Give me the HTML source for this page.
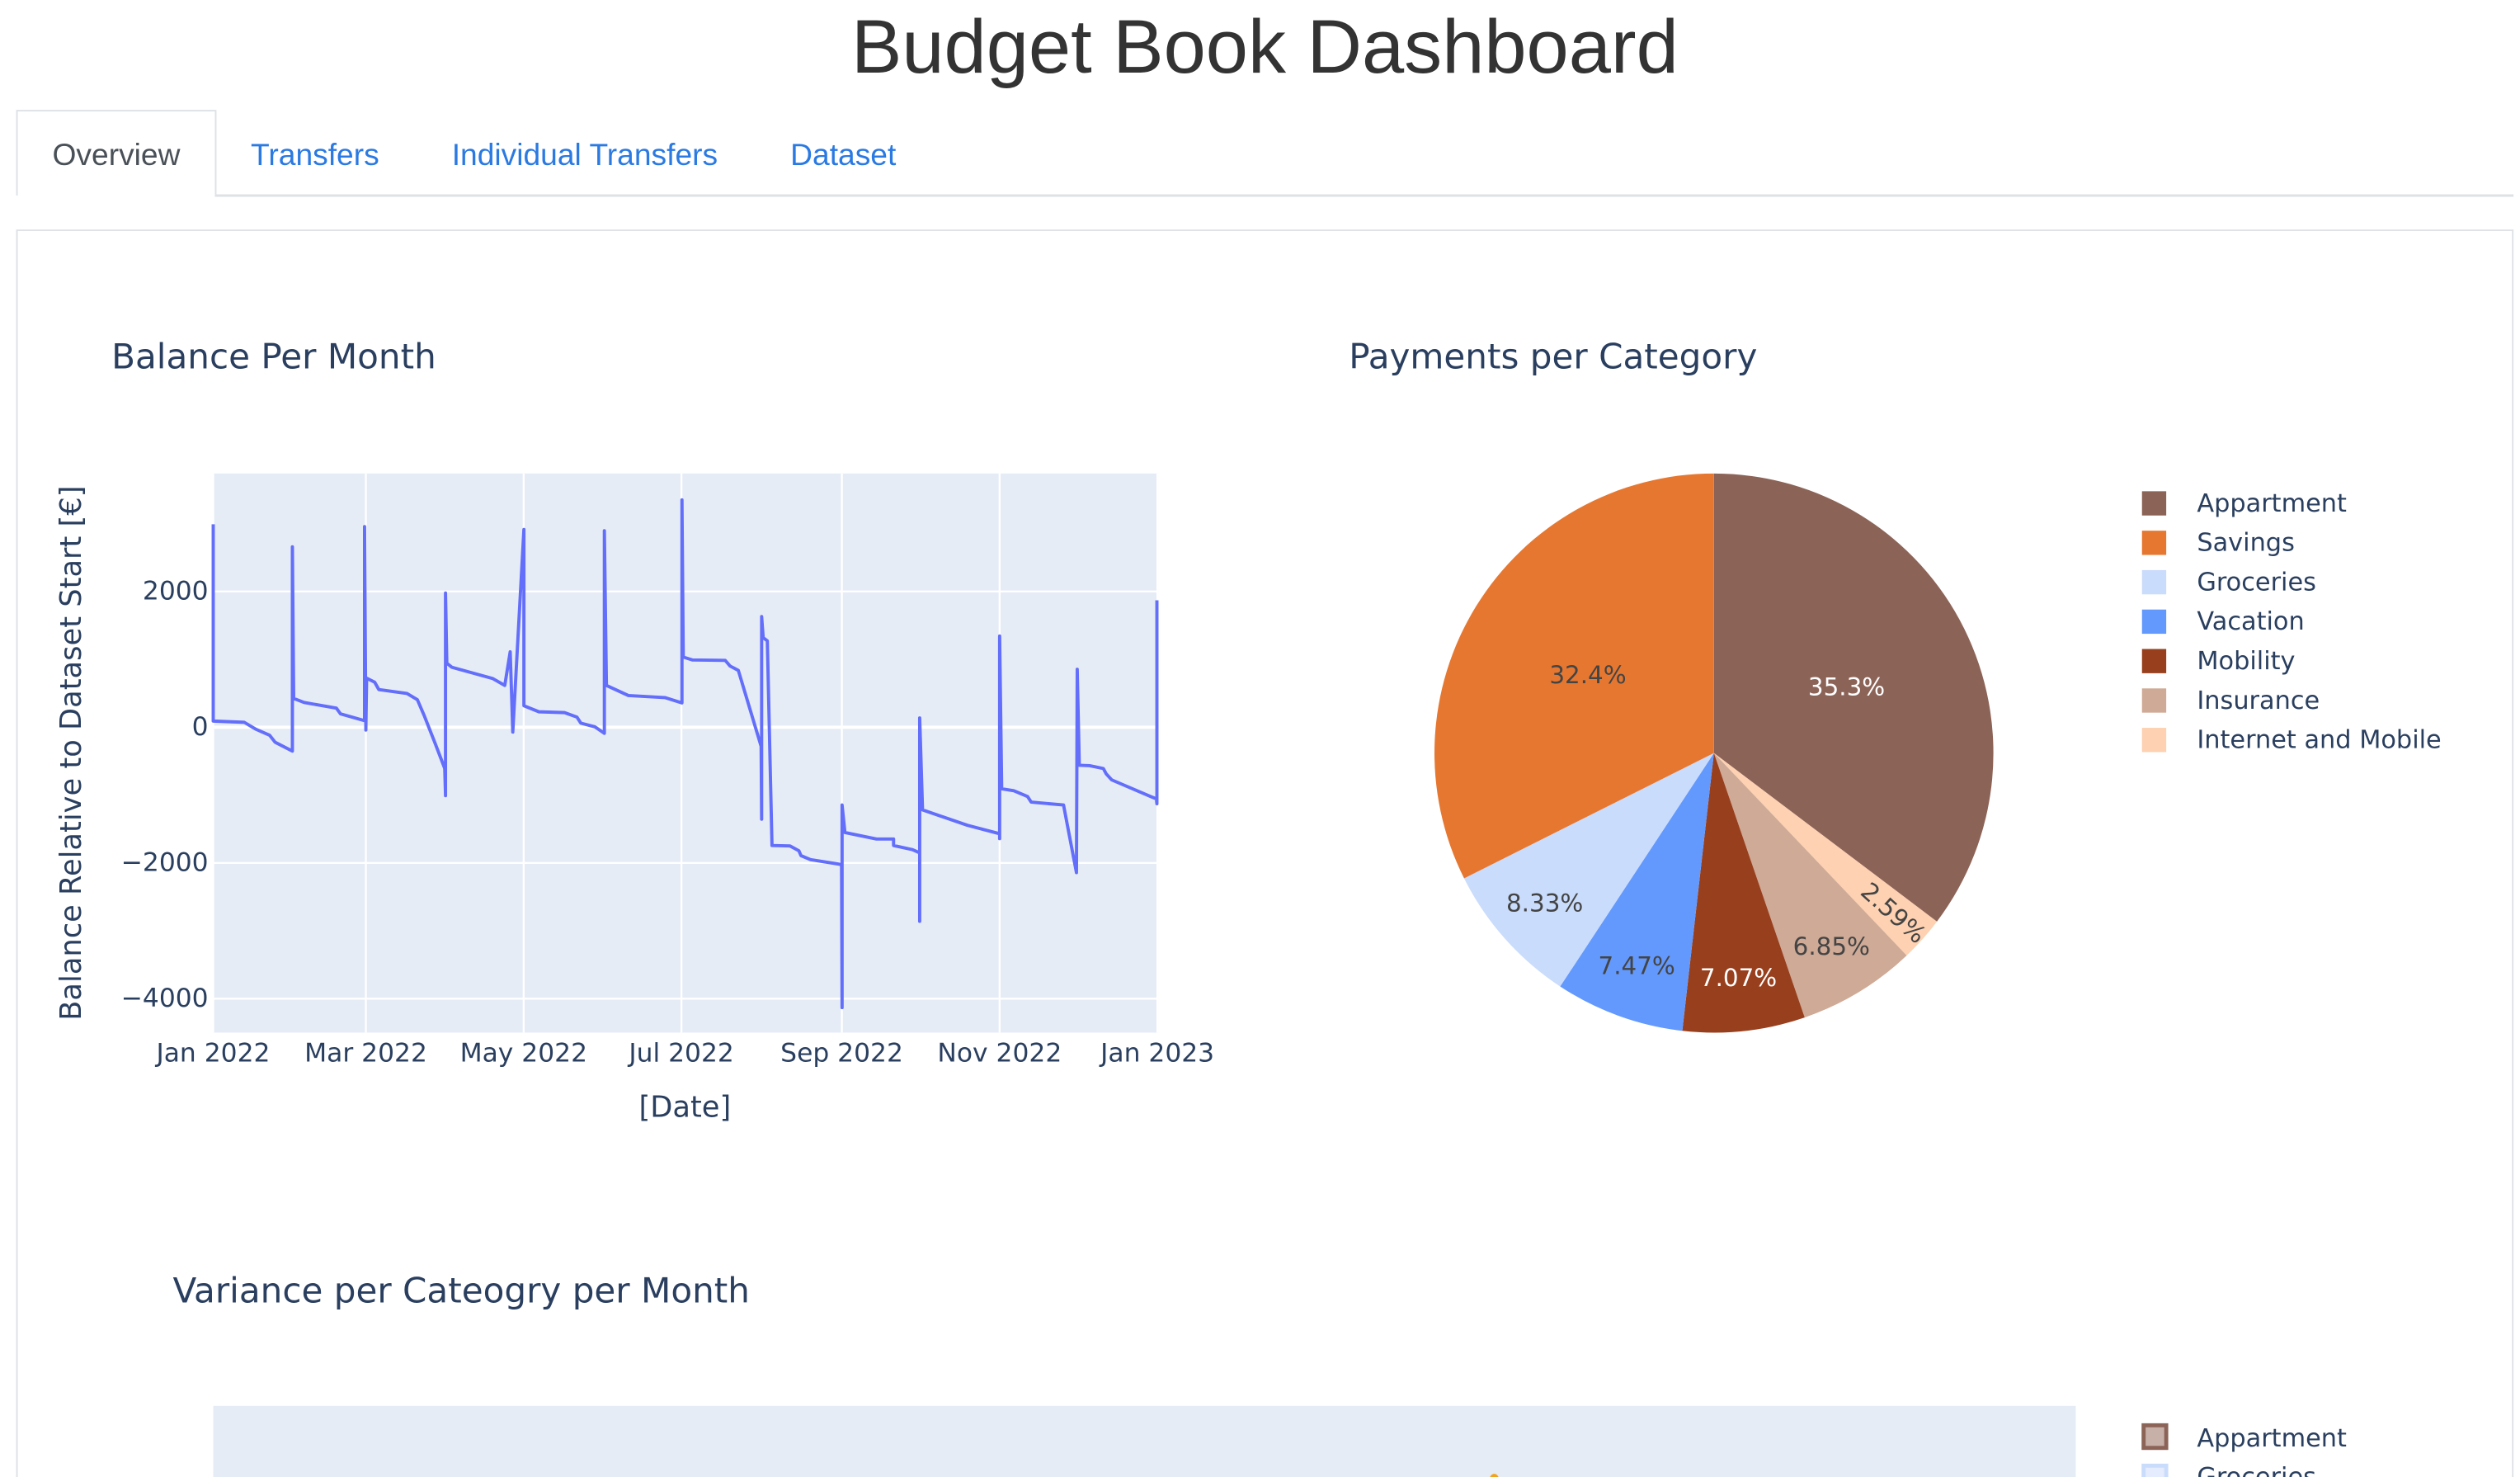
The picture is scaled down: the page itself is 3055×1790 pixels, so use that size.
<!DOCTYPE html>
<html><head><meta charset="utf-8">
<style>
html,body{margin:0;padding:0;background:#fff;width:3055px;height:1790px;overflow:hidden;}
svg{display:block;}
.tick{font-family:"DejaVu Sans",sans-serif;font-size:16px;fill:#2a3f5f;}
.ttl{font-family:"DejaVu Sans",sans-serif;font-size:21.5px;fill:#2a3f5f;}
.leg{font-family:"DejaVu Sans",sans-serif;font-size:15.5px;fill:#2a3f5f;}
.pl{font-family:"DejaVu Sans",sans-serif;font-size:15px;}
.tab{font-family:"Liberation Sans",sans-serif;font-size:19px;}
</style></head>
<body>
<svg id="page" width="3055" height="1790" viewBox="0 0 1560 914" preserveAspectRatio="none" xmlns="http://www.w3.org/2000/svg">
  <text x="783" y="45" text-anchor="middle" font-family="Liberation Sans, sans-serif" font-size="47" fill="#333">Budget Book Dashboard</text>
  <line x1="133" y1="121" x2="1556" y2="121" stroke="#dee2e6" stroke-width="1.5"/>
  <path d="M10.5 121 V68.5 H133.5 V121" fill="#fff" stroke="#dee2e6" stroke-width="1"/>
  <text class="tab" x="72" y="102" text-anchor="middle" fill="#495057">Overview</text>
  <text class="tab" x="195" y="102" text-anchor="middle" fill="#2a7ae2">Transfers</text>
  <text class="tab" x="362" y="102" text-anchor="middle" fill="#2a7ae2">Individual Transfers</text>
  <text class="tab" x="522" y="102" text-anchor="middle" fill="#2a7ae2">Dataset</text>
  <path d="M10.5 920 V142.5 H1555.5 V920" fill="none" stroke="#dee2e6" stroke-width="1"/>

  <text class="ttl" x="69" y="228">Balance Per Month</text>
  <g id="balance"></g>
  <text class="tick" x="424" y="691" text-anchor="middle" style="font-size:18px">[Date]</text>
  <text class="tick" style="font-size:18px" transform="translate(50,466) rotate(-90)" text-anchor="middle">Balance Relative to Dataset Start [€]</text>

  <text class="ttl" x="835" y="228">Payments per Category</text>
  <g id="pie"></g>
  <g id="pielegend"></g>

  <text class="ttl" x="107" y="806">Variance per Cateogry per Month</text>
  <rect x="132" y="870" width="1153" height="50" fill="#e5ecf6"/>
  <ellipse cx="925" cy="916" rx="3" ry="4" fill="#f2a31e"/>
  <rect x="1327" y="882" width="14" height="14" fill="#c6b0a8" stroke="#8c6357" stroke-width="2.5"/>
  <text class="leg" x="1360" y="895">Appartment</text>
  <rect x="1327" y="907" width="14" height="14" fill="#e4ecfd" stroke="#cadcfb" stroke-width="2.5"/>
  <text class="leg" x="1360" y="919">Groceries</text>
</svg>
<script>
const balanceDays = [0,0,12,16.5,21.8,23.9,30.6,30.6,31.1,35.1,47.6,49.2,58.5,58.5,59,59.3,62.4,64,74.9,78.9,81.6,85.6,89.5,89.8,89.8,90.3,92.2,108.1,112.7,114.8,115.8,120.1,120.1,125.9,135.8,140.6,142.1,147.5,151.2,151.2,152,160.5,174.6,181.2,181.2,181.7,185.2,197.9,199.8,203,211.8,212,212,212.6,214.2,216,222.9,226.4,227.2,230.9,242.9,243.1,243.1,244.2,256.4,263,263,270.2,273.1,273.1,273.1,274.2,291.5,304,304,304,304.8,309.5,314.8,316.2,328.7,333.7,334,334.8,338.8,344.1,345.2,347.3,364.6,364.8,364.8];
const balanceValues = [2990,90,72,-30,-119,-221,-352,2657,424,364,281,197,96,2955,-42,722,663,555,496,406,167,-221,-609,-1009,1976,943,884,716,615,1110,-72,2913,316,227,215,149,60,6,-90,2895,615,466,436,358,3349,1033,991,985,901,836,-281,-1355,1630,1319,1272,-1743,-1749,-1821,-1892,-1952,-2024,-4131,-1146,-1552,-1648,-1648,-1743,-1803,-1851,-2860,137,-1218,-1445,-1570,-1642,1343,-907,-937,-1021,-1104,-1146,-2143,854,-561,-567,-609,-687,-776,-1057,-1128,1869];
const yTicks = [2000,0,-2000,-4000];
const yTickLabels = ["2000","0","−2000","−4000"];
const xTickDays = [0,59,120,181,243,304,365];
const xTickLabels = ["Jan 2022","Mar 2022","May 2022","Jul 2022","Sep 2022","Nov 2022","Jan 2023"];
const pieCategories = ["Appartment","Internet and Mobile","Insurance","Mobility","Vacation","Groceries","Savings"];
const pieValues = [35.3,2.59,6.85,7.07,7.47,8.33,32.4];
const pieLabels = ["35.3%","2.59%","6.85%","7.07%","7.47%","8.33%","32.4%"];
const legendOrder = ["Appartment","Savings","Groceries","Vacation","Mobility","Insurance","Internet and Mobile"];

const NS="http://www.w3.org/2000/svg";
function mk(tag,attrs,parent){const e=document.createElementNS(NS,tag);for(const k in attrs)e.setAttribute(k,attrs[k]);parent.appendChild(e);return e;}

const PX0=132,PX1=716.5,PY0=293,PY1=639;
const xScale=d=>PX0+(d/365)*(PX1-PX0);
const yScale=v=>450-v*(84/2000);

const g=document.getElementById('balance');
const bg=mk('rect',{x:PX0,y:PY0,width:PX1-PX0+0.5,height:PY1-PY0,fill:'#e5ecf6'},g);


xTickDays.forEach((d,i)=>{
  const l=mk('line',{x1:xScale(d),x2:xScale(d),y1:PY0,y2:PY1,stroke:'#fff','stroke-width':1.2},g);
  
  
  const t=mk('text',{x:xScale(d),y:657,'text-anchor':'middle',class:'tick'},g);
  t.textContent=xTickLabels[i];
  
  
});
yTicks.forEach((v,i)=>{
  const l=mk('line',{x1:PX0,x2:PX1,y1:yScale(v),y2:yScale(v),stroke:'#fff','stroke-width':v===0?2:1.2},g);
  
  
  const t=mk('text',{x:129,y:yScale(v)+5,'text-anchor':'end',class:'tick'},g);
  t.textContent=yTickLabels[i];
  
  
});
let d='';
balanceDays.forEach((day,i)=>{d+=(i?'L':'M')+xScale(day).toFixed(2)+' '+yScale(balanceValues[i]).toFixed(2);});
const line=mk('path',{d:d,fill:'none',stroke:'#636efa','stroke-width':2,'stroke-linejoin':'round'},g);



const colors={"Appartment":"#8c6357","Savings":"#e67731","Groceries":"#cadcfb","Vacation":"#6399fc","Mobility":"#983f1d","Insurance":"#cfaa96","Internet and Mobile":"#fdd1b1"};
const textColors={"Appartment":"#fff","Mobility":"#fff"};
const pg=document.getElementById('pie');
const CX=1061,CY=466,R=173;
const total=pieValues.reduce((a,b)=>a+b,0);
let ang=0;
pieCategories.forEach((c,i)=>{
  const a0=ang, a1=ang+pieValues[i]/total*2*Math.PI; ang=a1;
  const p=a=>[CX+R*Math.sin(a),CY-R*Math.cos(a)];
  const [x0,y0]=p(a0),[x1,y1]=p(a1);
  const large=(a1-a0)>Math.PI?1:0;
  const s=mk('path',{d:`M${CX} ${CY}L${x0} ${y0}A${R} ${R} 0 ${large} 1 ${x1} ${y1}Z`,fill:colors[c],stroke:'#fff','stroke-width':0},pg);
  
  
  const am=(a0+a1)/2;
  const small=pieValues[i]<10;
  const rr=small?(pieValues[i]<4?0.86:0.81)*R:0.53*R;
  const lx=CX+rr*Math.sin(am), ly=CY-rr*Math.cos(am);
  const attrs={x:lx,y:ly+5,'text-anchor':'middle',class:'pl',fill:textColors[c]||'#444'};
  if(pieValues[i]<4){attrs.transform=`rotate(${am*180/Math.PI-90} ${lx} ${ly})`;}
  const t=mk('text',attrs,pg);
  t.textContent=pieLabels[i];
  
  
});
const lg=document.getElementById('pielegend');
legendOrder.forEach((c,i)=>{
  const y=311+i*24.4;
  const r=mk('rect',{x:1326,y:y-7,width:15,height:15,fill:colors[c]},lg);
  
  
  const t=mk('text',{x:1360,y:y+5.5,class:'leg'},lg);
  t.textContent=c;
  
  
});
</script>
</body></html>
